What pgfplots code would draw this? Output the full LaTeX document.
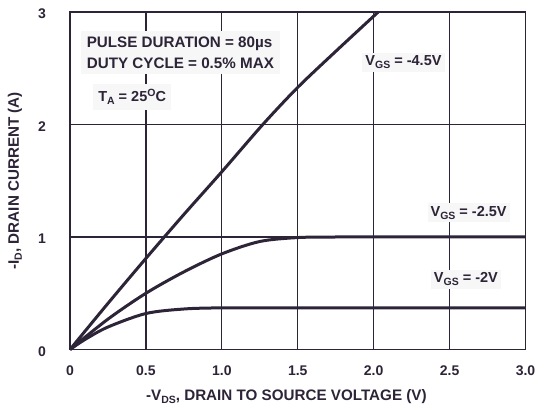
\documentclass[border=0pt]{standalone}
\usepackage{pgfplots}
\pgfplotsset{compat=1.18}
\usepackage{fontspec}
\setmainfont{Liberation Sans}
\definecolor{ink}{RGB}{45,36,56}
\newcommand{\sub}[1]{\raisebox{-0.35ex}{\fontsize{10.5}{11}\selectfont #1}}
\newcommand{\anfont}{\bfseries\fontsize{14.5}{20}\selectfont}
\newcommand{\bgfont}{\bfseries\fontsize{15.2}{20.5}\selectfont}
\begin{document}
\begin{tikzpicture}
\begin{axis}[
  set layers=standard,
  scale only axis, width=455.5pt, height=337.5pt,
  xmin=0, xmax=3, ymin=0, ymax=3,
  xtick={0,0.5,1,1.5,2,2.5,3}, xticklabels={0,0.5,1.0,1.5,2.0,2.5,3.0},
  ytick={0,1,2,3}, yticklabels={0,1,2,3},
  major tick length=0pt,
  grid=major,
  major grid style={line width=1.2pt, color=ink},
  axis line style={line width=1.5pt, color=ink},
  tick label style={font=\bfseries\fontsize{14}{16}\selectfont, text=ink},
  xticklabel style={yshift=-12.5pt},
  yticklabel style={xshift=-20.5pt, yshift=-2pt},
  every axis x label/.style={at={(axis description cs:0.475,0)}, anchor=center, yshift=-47pt, font=\bgfont, text=ink},
  every axis y label/.style={at={(axis description cs:-0.1207,0.5)}, rotate=90, anchor=center, font=\bgfont, text=ink},
  xlabel={-V\sub{DS}, DRAIN TO SOURCE VOLTAGE (V)},
  ylabel={-I\sub{D}, DRAIN CURRENT (A)},
  clip=false,
]
\addplot[ink, line width=3pt, smooth] coordinates {
 (0,0) (0.25,0.41) (0.5,0.81) (0.75,1.2) (1.0,1.58) (1.27,2.0) (1.5,2.33) (1.75,2.65) (2.03,3.0)};
\addplot[ink, line width=3pt, smooth] coordinates {
 (0,0) (0.25,0.27) (0.5,0.50) (0.75,0.69) (1.0,0.85) (1.25,0.96) (1.5,0.995) (1.75,1.0) (2.0,1.0) (2.5,1.0) (3.0,1.0)};
\addplot[ink, line width=3pt, smooth] coordinates {
 (0,0) (0.1,0.09) (0.25,0.2) (0.5,0.32) (0.75,0.36) (1.0,0.37) (1.5,0.37) (2.0,0.37) (2.5,0.37) (3.0,0.37)};
\node[anchor=west, align=left, fill=black!3, inner sep=6pt, font=\bgfont, text=ink] at (axis cs:0.07,2.637) {PULSE DURATION = 80µs\\DUTY CYCLE = 0.5\% MAX};
\node[anchor=base west, fill=black!3, inner sep=5pt, font=\anfont, text=ink] at (axis cs:0.152,2.2) {T\sub{A} = 25\raisebox{0.75ex}{\fontsize{10.5}{11}\selectfont O}C};
\node[anchor=base west, fill=black!3, inner sep=3pt, font=\anfont, text=ink] at (axis cs:1.925,2.522) {V\sub{GS} = -4.5V};
\node[anchor=base west, fill=black!3, inner sep=3pt, font=\anfont, text=ink] at (axis cs:2.354,1.183) {V\sub{GS} = -2.5V};
\node[anchor=base west, fill=black!3, inner sep=3pt, font=\anfont, text=ink] at (axis cs:2.376,0.592) {V\sub{GS} = -2V};
\end{axis}
\pgfresetboundingbox
\path[use as bounding box] (-70pt,-62.5pt) rectangle (468pt,349.5pt);
\end{tikzpicture}
\end{document}
